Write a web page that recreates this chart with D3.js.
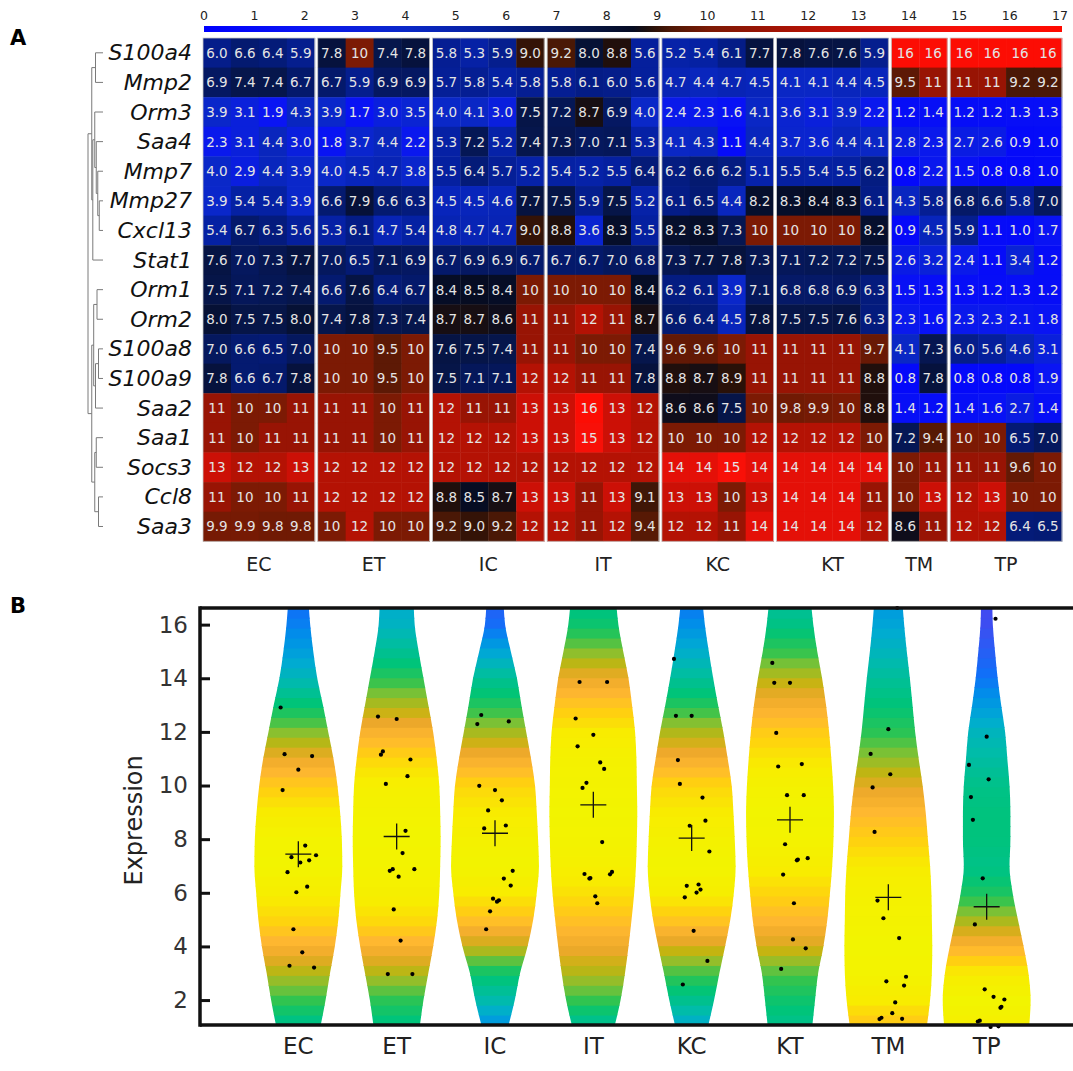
<!DOCTYPE html>
<html><head><meta charset="utf-8">
<script src="https://cdn.jsdelivr.net/npm/d3@7"></script>
<style>body{margin:0;background:#fff}svg{display:block}text{font-family:"DejaVu Sans",sans-serif}</style>
</head><body><svg id="c" width="1073" height="1071"></svg>
<script>
// ---------- Panel A data ----------
const genes = ["S100a4","Mmp2","Orm3","Saa4","Mmp7","Mmp27","Cxcl13","Stat1","Orm1","Orm2","S100a8","S100a9","Saa2","Saa1","Socs3","Ccl8","Saa3"];
const groups = ["EC","ET","IC","IT","KC","KT","TM","TP"];
const groupSizes = [4,4,4,4,4,4,2,4];
const colorbarTicks = d3.range(0,18);
// rows follow `genes`; columns: EC(4) ET(4) IC(4) IT(4) KC(4) KT(4) TM(2) TP(4)
const heatValues = [
 [6.0,6.6,6.4,5.9, 7.8,10,7.4,7.8, 5.8,5.3,5.9,9.0, 9.2,8.0,8.8,5.6, 5.2,5.4,6.1,7.7, 7.8,7.6,7.6,5.9, 16,16, 16,16,16,16],
 [6.9,7.4,7.4,6.7, 6.7,5.9,6.9,6.9, 5.7,5.8,5.4,5.8, 5.8,6.1,6.0,5.6, 4.7,4.4,4.7,4.5, 4.1,4.1,4.4,4.5, 9.5,11, 11,11,9.2,9.2],
 [3.9,3.1,1.9,4.3, 3.9,1.7,3.0,3.5, 4.0,4.1,3.0,7.5, 7.2,8.7,6.9,4.0, 2.4,2.3,1.6,4.1, 3.6,3.1,3.9,2.2, 1.2,1.4, 1.2,1.2,1.3,1.3],
 [2.3,3.1,4.4,3.0, 1.8,3.7,4.4,2.2, 5.3,7.2,5.2,7.4, 7.3,7.0,7.1,5.3, 4.1,4.3,1.1,4.4, 3.7,3.6,4.4,4.1, 2.8,2.3, 2.7,2.6,0.9,1.0],
 [4.0,2.9,4.4,3.9, 4.0,4.5,4.7,3.8, 5.5,6.4,5.7,5.2, 5.4,5.2,5.5,6.4, 6.2,6.6,6.2,5.1, 5.5,5.4,5.5,6.2, 0.8,2.2, 1.5,0.8,0.8,1.0],
 [3.9,5.4,5.4,3.9, 6.6,7.9,6.6,6.3, 4.5,4.5,4.6,7.7, 7.5,5.9,7.5,5.2, 6.1,6.5,4.4,8.2, 8.3,8.4,8.3,6.1, 4.3,5.8, 6.8,6.6,5.8,7.0],
 [5.4,6.7,6.3,5.6, 5.3,6.1,4.7,5.4, 4.8,4.7,4.7,9.0, 8.8,3.6,8.3,5.5, 8.2,8.3,7.3,10, 10,10,10,8.2, 0.9,4.5, 5.9,1.1,1.0,1.7],
 [7.6,7.0,7.3,7.7, 7.0,6.5,7.1,6.9, 6.7,6.9,6.9,6.7, 6.7,6.7,7.0,6.8, 7.3,7.7,7.8,7.3, 7.1,7.2,7.2,7.5, 2.6,3.2, 2.4,1.1,3.4,1.2],
 [7.5,7.1,7.2,7.4, 6.6,7.6,6.4,6.7, 8.4,8.5,8.4,10, 10,10,10,8.4, 6.2,6.1,3.9,7.1, 6.8,6.8,6.9,6.3, 1.5,1.3, 1.3,1.2,1.3,1.2],
 [8.0,7.5,7.5,8.0, 7.4,7.8,7.3,7.4, 8.7,8.7,8.6,11, 11,12,11,8.7, 6.6,6.4,4.5,7.8, 7.5,7.5,7.6,6.3, 2.3,1.6, 2.3,2.3,2.1,1.8],
 [7.0,6.6,6.5,7.0, 10,10,9.5,10, 7.6,7.5,7.4,11, 11,10,10,7.4, 9.6,9.6,10,11, 11,11,11,9.7, 4.1,7.3, 6.0,5.6,4.6,3.1],
 [7.8,6.6,6.7,7.8, 10,10,9.5,10, 7.5,7.1,7.1,12, 12,11,11,7.8, 8.8,8.7,8.9,11, 11,11,11,8.8, 0.8,7.8, 0.8,0.8,0.8,1.9],
 [11,10,10,11, 11,11,10,11, 12,11,11,13, 13,16,13,12, 8.6,8.6,7.5,10, 9.8,9.9,10,8.8, 1.4,1.2, 1.4,1.6,2.7,1.4],
 [11,10,11,11, 11,11,10,11, 12,12,12,13, 13,15,13,12, 10,10,10,12, 12,12,12,10, 7.2,9.4, 10,10,6.5,7.0],
 [13,12,12,13, 12,12,12,12, 12,12,12,12, 12,12,12,12, 14,14,15,14, 14,14,14,14, 10,11, 11,11,9.6,10],
 [11,10,10,11, 12,12,12,12, 8.8,8.5,8.7,13, 13,11,13,9.1, 13,13,10,13, 14,14,14,11, 10,13, 12,13,10,10],
 [9.9,9.9,9.8,9.8, 10,12,10,10, 9.2,9.0,9.2,12, 12,11,12,9.4, 12,12,11,14, 14,14,14,12, 8.6,11, 12,12,6.4,6.5]
];
// dendrogram: [height, left, right], leaves are row indices
const dendroTree = [1.0,
  [0.75, [0.5,0,1], [0.68, [0.55, 2, [0.45, 3, [0.35, 4, [0.25, 5, 6]]]], 7]],
  [0.75, [0.62, [0.4, 8, 9], [0.5, [0.3, 10, 11], 12]], [0.55, [0.45, 13, 14], [0.3, 15, 16]]]
];
const heatStops  = [0, 2, 4, 5.5, 6.5, 7.5, 8.5, 8.85, 9.2, 10, 11, 12, 13, 14, 15, 17];
const heatColors = ["#0000ff","#0a16f2","#0a28c8","#0520a0","#041a74","#061548","#060c22","#241008","#4a1806","#7c1a04","#981404","#b41204","#cc1006","#e41008","#f81008","#ff0a00"];

// ---------- Panel B data ----------
const violinLevels = [1.07,2,3,4,5,6,7,8,9,10,11,12,13,14,15,16,16.62];
const violinWidths = [
 [0.51,0.62,0.72,0.83,0.91,0.96,1.0,0.99,0.95,0.89,0.80,0.68,0.56,0.43,0.34,0.27,0.24], // EC
 [0.53,0.61,0.72,0.83,0.92,0.97,0.99,1.0,0.99,0.97,0.91,0.83,0.72,0.61,0.50,0.41,0.39], // ET
 [0.31,0.45,0.57,0.74,0.87,0.95,1.0,0.98,0.95,0.91,0.82,0.71,0.60,0.50,0.36,0.23,0.20], // IC
 [0.49,0.62,0.72,0.80,0.87,0.93,0.97,0.99,1.0,0.99,0.98,0.95,0.88,0.80,0.68,0.57,0.53], // IT
 [0.38,0.51,0.63,0.76,0.88,0.96,1.0,0.98,0.95,0.91,0.82,0.72,0.60,0.49,0.39,0.30,0.26], // KC
 [0.51,0.57,0.64,0.76,0.85,0.91,0.96,0.99,1.0,0.98,0.94,0.89,0.82,0.73,0.62,0.53,0.49], // KT
 [0.88,0.95,0.99,1.0,0.99,0.98,0.95,0.90,0.85,0.78,0.69,0.61,0.55,0.49,0.42,0.36,0.33], // TM
 [0.97,1.0,0.95,0.84,0.71,0.59,0.52,0.54,0.54,0.52,0.47,0.42,0.33,0.25,0.19,0.14,0.13]  // TP
];
const dotValues = [
 [12.91,11.17,11.10,10.59,9.83,7.76,7.33,7.13,7.21,7.40,6.77,6.23,6.02,4.64,3.78,3.28,3.21],
 [12.57,12.48,11.15,11.27,10.97,10.35,10.06,8.31,7.48,6.88,6.82,6.88,6.60,5.38,4.22,2.97,2.97],
 [12.63,12.29,12.39,9.99,9.83,9.45,9.07,8.40,8.51,6.82,6.53,6.27,5.78,5.67,5.72,5.31,4.64],
 [13.86,13.86,12.50,11.89,11.46,10.86,10.62,10.10,9.91,7.89,6.70,6.53,6.55,6.78,6.69,5.87,5.61],
 [14.72,12.60,12.60,10.95,10.06,9.55,8.69,8.50,7.54,6.26,6.31,6.01,6.12,5.83,4.58,3.46,2.58],
 [14.57,13.83,13.83,11.96,10.71,10.80,9.64,9.64,7.81,7.21,7.24,7.29,6.68,5.61,4.26,3.93,3.16],
 [16.62,12.10,11.18,10.42,9.93,8.27,5.71,5.05,4.31,2.70,2.87,2.54,1.91,1.51,1.30,1.29,1.34],
 [16.22,11.82,10.77,10.23,9.57,8.72,6.54,4.82,2.40,2.12,2.02,1.75,1.71,1.23,1.20,1.00,1.02]
];
const dotJitter = [
 [-0.18,-0.14,0.14,0,-0.16,0.07,-0.07,0.02,0.11,0.18,-0.11,0.09,-0.02,-0.05,0.04,-0.09,0.16],
 [-0.19,0,-0.16,-0.14,0.14,0.11,-0.11,0.09,0.06,0.18,-0.07,-0.04,0.02,-0.03,0.04,-0.09,0.16],
 [-0.14,-0.18,0.14,-0.16,0,0.07,-0.07,-0.11,0.11,0.18,0.09,0.16,-0.02,0.02,0.04,-0.05,-0.09],
 [-0.14,0.14,-0.18,0,-0.16,0.07,0.11,-0.07,-0.11,0.09,-0.09,-0.04,-0.03,0.19,0.17,0.02,0.04],
 [-0.18,-0.16,0,-0.14,-0.12,0.11,0.14,-0.02,0.18,-0.05,0.07,0.05,0.09,-0.07,0.02,0.16,-0.09],
 [-0.18,-0.16,0,-0.14,-0.12,0.12,-0.03,0.14,-0.05,0.07,0.08,0.18,-0.07,0.04,0.03,0.16,-0.09],
 [0.09,0,-0.18,0.02,-0.16,-0.14,-0.11,-0.05,0.11,-0.02,0.18,0.16,0.07,0.04,0.14,-0.09,-0.07],
 [0.09,0,-0.18,0.02,-0.16,-0.14,-0.04,-0.12,-0.02,0.07,0.18,0.15,0.14,-0.07,-0.09,0.04,0.12]
];
const groupMeans = [7.44,8.10,8.22,9.28,8.04,8.72,5.83,5.48];
const yTicks = [2,4,6,8,10,12,14,16];
const violinColorStops = [0.12,0.24,0.30,0.38,0.46,0.55,0.62,0.68,0.74,0.79,0.85,0.90,0.95,1.0];
const violinColors = ["#4646f0","#1070f8","#0090e8","#00acd0","#00bca8","#00c478","#30c450","#88c030","#c4b410","#eca82a","#ffb830","#ffd010","#f8ec00","#f2f400"];

// ---------- drawing ----------
const svg = d3.select("#c");
const heatColor = d3.scaleLinear().domain(heatStops).range(heatColors).clamp(true);
const defs = svg.append("defs");

// Panel letters
svg.append("text").attr("x",10).attr("y",45).attr("font-family","Liberation Sans, Arial").attr("font-weight","bold").attr("font-size",21).text("A");
svg.append("text").attr("x",10).attr("y",613).attr("font-family","Liberation Sans, Arial").attr("font-weight","bold").attr("font-size",21).text("B");

// colorbar
const xBar = d3.scaleLinear().domain([0,17]).range([204,1060]);
const grad = defs.append("linearGradient").attr("id","cbar").attr("x1","0%").attr("x2","100%");
d3.range(0,17.01,0.25).forEach(v=>grad.append("stop").attr("offset",(v/17*100)+"%").attr("stop-color",heatColor(v)));
svg.append("rect").attr("x",xBar(0)).attr("y",26).attr("width",xBar(17)-xBar(0)+2).attr("height",6).attr("fill","url(#cbar)");
svg.append("g").selectAll("text").data(colorbarTicks).join("text")
  .attr("x",d=>xBar(d)).attr("y",20).attr("text-anchor","middle").attr("font-size",12.5).attr("fill","#222").text(d=>d);

// heatmap
const colW = 27.93, gap = 3, hmLeft = 203;
const xCol = d3.scaleLinear().domain([0,30]).range([hmLeft, hmLeft+30*colW]);
const yRow = d3.scaleBand().domain(genes).range([38, 541.3]);
const colGroup = [], groupStart = [];
let acc = 0;
groupSizes.forEach((s,g)=>{ groupStart.push(acc); for(let i=0;i<s;i++) colGroup.push(g); acc += s; });
const cells = [];
heatValues.forEach((row,r)=>row.forEach((v,c)=>cells.push({r,c,v,g:colGroup[c]})));
const hm = svg.append("g");
hm.selectAll("rect").data(cells).join("rect")
  .attr("x",d=>xCol(d.c)+d.g*gap).attr("y",d=>yRow(genes[d.r]))
  .attr("width",colW+0.4).attr("height",yRow.bandwidth()+0.4)
  .attr("fill",d=>heatColor(d.v));
hm.selectAll("text").data(cells).join("text")
  .attr("x",d=>xCol(d.c+0.5)+d.g*gap).attr("y",d=>yRow(genes[d.r])+yRow.bandwidth()/2)
  .attr("text-anchor","middle").attr("dominant-baseline","central")
  .attr("font-size",13.5).attr("fill","#e4e4e4")
  .text(d=>d.v>=10?d3.format("d")(d.v):d3.format(".1f")(d.v));
// block outlines
svg.append("g").selectAll("rect").data(groups).join("rect")
  .attr("x",(d,g)=>xCol(groupStart[g])+g*gap).attr("y",yRow.range()[0])
  .attr("width",(d,g)=>groupSizes[g]*colW).attr("height",yRow.range()[1]-yRow.range()[0])
  .attr("fill","none").attr("stroke","#c8c8c8").attr("stroke-width",0.8);
// group labels
svg.append("g").selectAll("text").data(groups).join("text")
  .attr("x",(d,g)=>xCol(groupStart[g]+groupSizes[g]/2)+g*gap).attr("y",564)
  .attr("text-anchor","middle").attr("dominant-baseline","central").attr("font-size",19).attr("fill","#222").text(d=>d);
// row labels
svg.append("g").selectAll("text").data(genes).join("text")
  .attr("x",192).attr("y",d=>yRow(d)+yRow.bandwidth()/2)
  .attr("text-anchor","end").attr("dominant-baseline","central")
  .attr("font-size",22).attr("font-style","italic").attr("fill","#111").text(d=>d);
// dendrogram
const xD = d3.scaleLinear().domain([0,1]).range([103,88]);
const dg = svg.append("g").attr("stroke","#7a7a7a").attr("stroke-width",1).attr("fill","none");
function drawNode(n){
  if(typeof n === "number") return {x:xD(0), y:yRow(genes[n])+yRow.bandwidth()/2};
  const [h,l,r] = n; const a = drawNode(l), b = drawNode(r); const x = xD(h);
  dg.append("path").attr("d",`M${a.x},${a.y}H${x}V${b.y}H${b.x}`);
  return {x, y:(a.y+b.y)/2};
}
drawNode(dendroTree);

// ---------- Panel B ----------
const x = d3.scaleLinear().domain([0,9]).range([200,1085]);
const y = d3.scaleLinear().domain([1.07,16.62]).range([1025,608]);
const maxHalf = 0.447;
const vColor = d3.scaleLinear().domain(violinColorStops).range(violinColors).clamp(true);
const vb = svg.append("g");
groups.forEach((gname,k)=>{
  const cx = k+1;
  const wScale = d3.scaleLinear().domain(violinLevels).range(violinWidths[k]);
  const area = d3.area().curve(d3.curveMonotoneY)
    .y(d=>y(d[0])).x0(d=>x(cx - d[1]*maxHalf)).x1(d=>x(cx + d[1]*maxHalf));
  const pts = violinLevels.map((lv,i)=>[lv, violinWidths[k][i]]);
  defs.append("clipPath").attr("id","vc"+k).append("path").attr("d",area(pts));
  const step = 0.37;
  const bands = d3.range(1.07, 16.62, step);
  vb.append("g").attr("clip-path",`url(#vc${k})`).selectAll("rect").data(bands).join("rect")
    .attr("x",x(cx - maxHalf - 0.02)).attr("width",x(cx+maxHalf+0.02)-x(cx-maxHalf-0.02))
    .attr("y",d=>y(Math.min(d+step,16.62))-0.5).attr("height",d=>y(d)-y(Math.min(d+step,16.62))+1)
    .attr("fill",d=>vColor(wScale(Math.min(d+step/2,16.62))));
  vb.append("g").selectAll("circle").data(dotValues[k]).join("circle")
    .attr("cx",(d,i)=>x(cx+dotJitter[k][i])).attr("cy",d=>y(d)).attr("r",2.1).attr("fill","#000");
  const m = groupMeans[k];
  vb.append("path").attr("d",`M${x(cx)-13},${y(m)}H${x(cx)+13}M${x(cx)},${y(m)-13}V${y(m)+13}`)
    .attr("stroke","#111").attr("stroke-width",1.3).attr("fill","none");
});
// frame
const fr = svg.append("g").attr("stroke","#111").attr("stroke-width",3.5);
fr.append("line").attr("x1",x(0)).attr("x2",1073).attr("y1",y(16.62)).attr("y2",y(16.62));
fr.append("line").attr("x1",x(0)).attr("x2",1073).attr("y1",y(1.07)).attr("y2",y(1.07));
fr.append("line").attr("x1",x(0)).attr("x2",x(0)).attr("y1",y(16.62)-1.75).attr("y2",y(1.07)+1.75);
// y axis
const yAxis = d3.axisLeft(y).tickValues(yTicks).tickSize(-10).tickPadding(12);
const ya = svg.append("g").attr("transform",`translate(${x(0)},0)`).call(yAxis);
ya.select(".domain").remove();
ya.selectAll(".tick line").attr("stroke","#111").attr("stroke-width",3);
ya.selectAll(".tick text").attr("font-size",23).attr("fill","#333").attr("font-family","DejaVu Sans");
svg.append("text").attr("transform",`translate(134,${y(8.7)}) rotate(-90)`).attr("text-anchor","middle")
  .attr("dominant-baseline","central").attr("font-size",24).attr("fill","#222").text("Expression");
// x labels
svg.append("g").selectAll("text").data(groups).join("text")
  .attr("x",(d,k)=>x(k+1)).attr("y",1046).attr("text-anchor","middle").attr("dominant-baseline","central")
  .attr("font-size",23).attr("fill","#222").text(d=>d);
</script></body></html>
